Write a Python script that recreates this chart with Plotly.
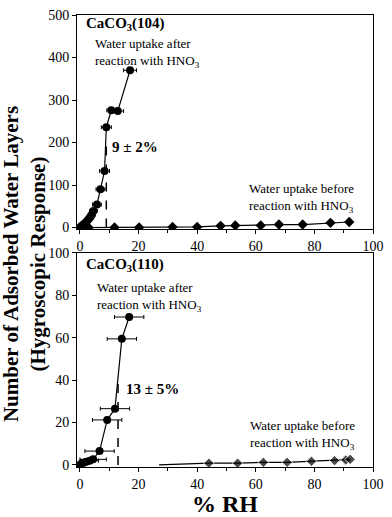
import plotly.graph_objects as go

# CaCO3(104) - after reaction with HNO3
rh_104_after = [0, 0.5, 1.0, 1.5, 2.0, 2.5, 3.0, 3.5, 4.0, 4.6, 5.8, 7.0, 8.4, 9.0, 10.7, 12.9, 17.1]
layers_104_after = [0, 3, 6, 9, 12, 16, 20, 24, 30, 39, 54, 90, 133, 236, 276, 274, 370]
err_104_after = [0.5, 0.6, 0.8, 0.8, 1.0, 1.0, 1.0, 1.2, 1.2, 1.3, 1.5, 1.5, 1.7, 1.7, 1.5, 2.0, 2.2]

# CaCO3(104) - before reaction
rh_104_before = [0, 2.9, 11.8, 20.2, 31.6, 40.0, 48.0, 53.0, 61.7, 67.9, 76.0, 85.5, 91.9]
layers_104_before = [0, 0, 0, 0, 1.5, 1.5, 4, 5, 5, 7, 7, 11, 13]

# CaCO3(110) - after reaction with HNO3
rh_110_after = [0, 0.5, 1.2, 2.2, 3.3, 4.5, 6.7, 9.3, 11.95, 14.3, 16.8]
layers_110_after = [0, 0.5, 1.0, 1.5, 2.0, 2.6, 6.5, 21.2, 26.5, 59.4, 69.7]
err_110_after = [0.5, 1.0, 1.5, 2.0, 3.0, 4.5, 5.0, 5.0, 5.0, 5.0, 5.0]

# CaCO3(110) - before reaction
rh_110_before = [27, 44, 53.8, 62.6, 70.7, 79, 86.9, 90.7, 92.2]
layers_110_before = [0, 0.8, 0.8, 1.2, 1.2, 1.7, 2.0, 2.3, 2.6]
size_110_before = [0, 8, 8, 8, 8, 8, 8, 8, 8]

# onset RH markers (dashed lines)
onset_rh = [9, 13]
onset_top = [200, 40]

FONT = "Liberation Serif, Times New Roman, Times, serif"
BLACK = "#000000"

fig = go.Figure()

# top panel
fig.add_trace(go.Scatter(
    x=rh_104_before, y=layers_104_before, mode="lines+markers",
    line=dict(color=BLACK, width=1.2),
    marker=dict(symbol="diamond", size=8, color=BLACK),
    xaxis="x", yaxis="y", showlegend=False))
fig.add_trace(go.Scatter(
    x=rh_104_after, y=layers_104_after, mode="lines+markers",
    line=dict(color=BLACK, width=1.2),
    marker=dict(symbol="circle", size=8, color=BLACK),
    error_x=dict(type="data", array=err_104_after, color=BLACK, thickness=1, width=2),
    xaxis="x", yaxis="y", showlegend=False))
fig.add_trace(go.Scatter(
    x=[onset_rh[0], onset_rh[0]], y=[0, onset_top[0]], mode="lines",
    line=dict(color=BLACK, width=1.5, dash="dash"),
    xaxis="x", yaxis="y", showlegend=False))

# bottom panel
fig.add_trace(go.Scatter(
    x=rh_110_before, y=layers_110_before, mode="lines+markers",
    line=dict(color=BLACK, width=1.2),
    marker=dict(symbol="diamond", size=size_110_before, color=BLACK),
    xaxis="x2", yaxis="y2", showlegend=False))
fig.add_trace(go.Scatter(
    x=rh_110_after, y=layers_110_after, mode="lines+markers",
    line=dict(color=BLACK, width=1.2),
    marker=dict(symbol="circle", size=8, color=BLACK),
    error_x=dict(type="data", array=err_110_after, color=BLACK, thickness=1, width=2),
    xaxis="x2", yaxis="y2", showlegend=False))
fig.add_trace(go.Scatter(
    x=[onset_rh[1], onset_rh[1]], y=[0, onset_top[1]], mode="lines",
    line=dict(color=BLACK, width=1.5, dash="dash"),
    xaxis="x2", yaxis="y2", showlegend=False))

axis_common = dict(
    showgrid=False, zeroline=False, showline=True, linecolor=BLACK, linewidth=1,
    mirror=True, ticks="outside", ticklen=4, tickcolor=BLACK,
    tickfont=dict(family=FONT, size=14, color=BLACK),
)
xaxis_common = dict(axis_common, range=[-1, 100], tickvals=[0, 20, 40, 60, 80, 100],
                    minor=dict(ticks="outside", ticklen=3, dtick=10, tick0=0, tickcolor=BLACK))

fig.update_layout(
    width=392, height=517,
    margin=dict(l=77, r=16, t=8, b=45),
    paper_bgcolor="white", plot_bgcolor="white",
    font=dict(family=FONT, color=BLACK),
    xaxis=dict(xaxis_common, domain=[0, 1], anchor="y"),
    yaxis=dict(axis_common, domain=[0.526, 1.0], range=[-4, 500], tickvals=[0, 100, 200, 300, 400, 500], anchor="x"),
    xaxis2=dict(xaxis_common, domain=[0, 1], anchor="y2",
                title=dict(text="<b>% RH</b>", font=dict(family=FONT, size=24, color=BLACK), standoff=0)),
    yaxis2=dict(axis_common, domain=[0, 0.474], range=[-1, 100], tickvals=[0, 20, 40, 60, 80, 100], anchor="x2"),
)

ann_font = dict(family=FONT, size=13, color=BLACK)
bold_font = dict(family=FONT, size=15, color=BLACK)
annotations = [
    dict(x=1.5, y=478, xref="x", yref="y", text="<b>CaCO<sub>3</sub>(104)</b>", font=bold_font, xanchor="left"),
    dict(x=4.3, y=410, xref="x", yref="y", text="Water uptake after<br>reaction with HNO<sub>3</sub>", font=ann_font, xanchor="left", align="left"),
    dict(x=10.4, y=189, xref="x", yref="y", text="<b>9 ± 2%</b>", font=bold_font, xanchor="left"),
    dict(x=57, y=69, xref="x", yref="y", text="Water uptake before<br>reaction with HNO<sub>3</sub>", font=ann_font, xanchor="left", align="left"),
    dict(x=1.5, y=94, xref="x2", yref="y2", text="<b>CaCO<sub>3</sub>(110)</b>", font=bold_font, xanchor="left"),
    dict(x=5, y=79, xref="x2", yref="y2", text="Water uptake after<br>reaction with HNO<sub>3</sub>", font=ann_font, xanchor="left", align="left"),
    dict(x=15, y=36, xref="x2", yref="y2", text="<b>13 ± 5%</b>", font=bold_font, xanchor="left"),
    dict(x=57.5, y=14, xref="x2", yref="y2", text="Water uptake before<br>reaction with HNO<sub>3</sub>", font=ann_font, xanchor="left", align="left"),
    dict(x=-0.177, y=0.448, xref="paper", yref="paper", textangle=-90,
         xanchor="center", yanchor="middle",
         text="<b>Number of Adsorbed Water Layers</b><br><b>(Hygroscopic Response)</b>",
         font=dict(family=FONT, size=21, color=BLACK)),
]
for a in annotations:
    a.setdefault("showarrow", False)
    fig.add_annotation(**a)

# the page's default body margin would shift the figure by 8px
fig.write_html("out.html", config={"displayModeBar": False},
               post_script="document.body.style.margin='0px';")
